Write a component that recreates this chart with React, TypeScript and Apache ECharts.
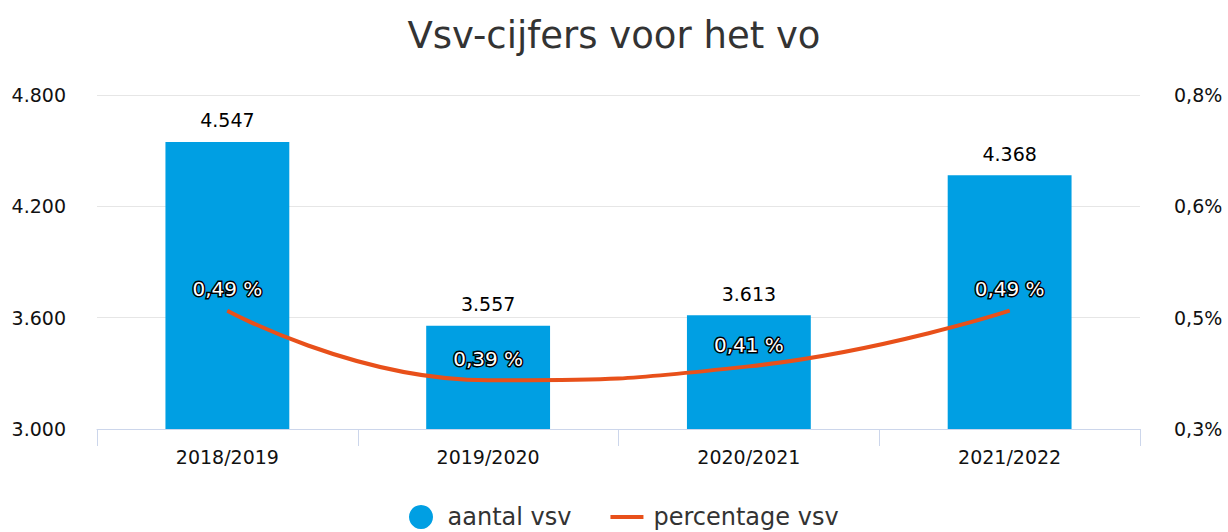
import React, { useEffect, useRef } from "react";
import * as echarts from "echarts";

const categories = ["2018/2019", "2019/2020", "2020/2021", "2021/2022"];
const aantalVsv = [4547, 3557, 3613, 4368];
const percentageVsv = [0.49, 0.39, 0.41, 0.49];
const leftTicks = { min: 3000, max: 4800, interval: 600 };
const rightTicks = { min: 0.32, max: 0.8, interval: 0.16 };

const FONT = "DejaVu Sans, Verdana, sans-serif";

function thousands(v: number): string {
  return String(Math.round(v)).replace(/\B(?=(\d{3})+(?!\d))/g, ".");
}

export default function App() {
  const ref = useRef<HTMLDivElement>(null);
  useEffect(() => {
    document.body.style.margin = "0";
    const chart = echarts.init(ref.current!, null, { renderer: "svg" });
    chart.setOption({
      animation: false,
      textStyle: { fontFamily: FONT },
      title: {
        text: "Vsv-cijfers voor het vo",
        left: "center",
        top: 12,
        textStyle: { fontFamily: FONT, fontSize: 37, fontWeight: "normal", color: "#333333" },
      },
      legend: {
        bottom: -2,
        left: 404,
        itemWidth: 33,
        itemHeight: 24,
        itemGap: 39,
        textStyle: { fontFamily: FONT, fontSize: 24, color: "#333333", padding: [0, 0, 0, 5] },
        data: [
          { name: "aantal vsv", icon: "circle" },
          { name: "percentage vsv", icon: "path://M0,0 L33,0 L33,4 L0,4 Z" },
        ],
      },
      grid: { left: 97, right: 88, top: 95, bottom: 103 },
      xAxis: {
        type: "category",
        data: categories,
        boundaryGap: true,
        axisLine: { lineStyle: { color: "#ccd6eb", width: 1 } },
        axisTick: { show: true, length: 17, alignWithLabel: false, lineStyle: { color: "#ccd6eb" } },
        axisLabel: { fontFamily: FONT, fontSize: 19, color: "#111111", margin: 18 },
      },
      yAxis: [
        {
          type: "value",
          min: leftTicks.min,
          max: leftTicks.max,
          interval: leftTicks.interval,
          axisLine: { show: false },
          axisTick: { show: false },
          splitLine: { lineStyle: { color: "#e6e6e6", width: 1 } },
          axisLabel: {
            fontFamily: FONT,
            fontSize: 19,
            color: "#111111",
            margin: 31,
            formatter: (v: number) => thousands(v),
          },
        },
        {
          type: "value",
          min: rightTicks.min,
          max: rightTicks.max,
          interval: rightTicks.interval,
          axisLine: { show: false },
          axisTick: { show: false },
          splitLine: { show: false },
          axisLabel: {
            fontFamily: FONT,
            fontSize: 19,
            color: "#111111",
            margin: 34,
            formatter: (v: number) => v.toFixed(1).replace(".", ",") + "%",
          },
        },
      ],
      series: [
        {
          name: "aantal vsv",
          type: "bar",
          data: aantalVsv,
          barWidth: "47.5%",
          itemStyle: { color: "#009fe3" },
          label: {
            show: true,
            position: "top",
            distance: 12,
            fontFamily: FONT,
            fontSize: 19,
            color: "#000000",
            formatter: (p: any) => thousands(p.value),
          },
          z: 2,
        },
        {
          name: "percentage vsv",
          type: "line",
          yAxisIndex: 1,
          data: percentageVsv,
          smooth: 0.5,
          symbol: "circle",
          symbolSize: 1,
          showSymbol: true,
          lineStyle: { color: "#e8501a", width: 4 },
          itemStyle: { color: "#e8501a" },
          label: {
            show: true,
            position: "top",
            distance: 11,
            fontFamily: FONT,
            fontSize: 20,
            color: "#ffffff",
            textBorderColor: "#000000",
            textBorderWidth: 3,
            formatter: (p: any) => p.value.toFixed(2).replace(".", ",") + " %",
          },
          z: 3,
        },
      ],
    });
    return () => chart.dispose();
  }, []);
  return <div ref={ref} style={{ width: 1228, height: 532 }} />;
}
